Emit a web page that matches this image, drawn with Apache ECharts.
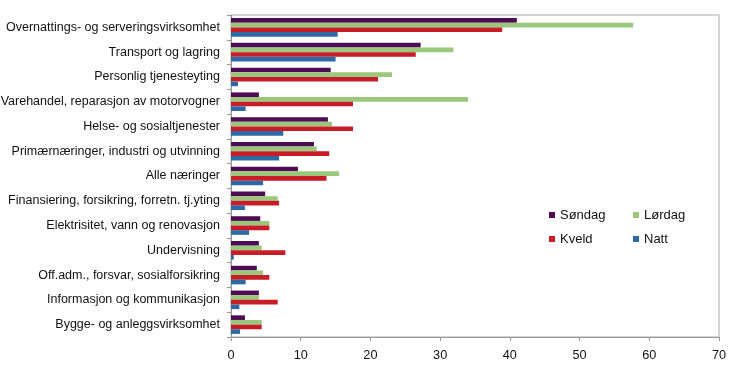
<!DOCTYPE html>
<html>
<head>
<meta charset="utf-8">
<script src="https://cdn.jsdelivr.net/npm/echarts@6/dist/echarts.min.js"></script>
<style>
  html, body { margin: 0; padding: 0; background: #fff; }
  #chart { width: 730px; height: 377px; }
</style>
</head>
<body>
<div id="chart"></div>
<script>
// categories top to bottom
var categories = [
  'Overnattings- og serveringsvirksomhet',
  'Transport og lagring',
  'Personlig tjenesteyting',
  'Varehandel, reparasjon av motorvogner',
  'Helse- og sosialtjenester',
  'Primærnæringer, industri og utvinning',
  'Alle næringer',
  'Finansiering, forsikring, forretn. tj.yting',
  'Elektrisitet, vann og renovasjon',
  'Undervisning',
  'Off.adm., forsvar, sosialforsikring',
  'Informasjon og kommunikasjon',
  'Bygge- og anleggsvirksomhet'
]
var sondag = [41.0, 27.2, 14.3, 4.0, 13.9, 11.9, 9.6, 4.9, 4.2, 4.0, 3.7, 4.0, 2.0]
var lordag = [57.7, 31.9, 23.1, 34.0, 14.5, 12.3, 15.5, 6.7, 5.5, 4.4, 4.6, 4.0, 4.4]
var kveld = [38.9, 26.5, 21.1, 17.5, 17.5, 14.1, 13.7, 6.9, 5.5, 7.8, 5.5, 6.7, 4.4]
var natt = [15.3, 15.0, 1.0, 2.1, 7.5, 6.9, 4.6, 2.0, 2.6, 0.4, 2.1, 1.2, 1.3]
var xTicks = [0, 10, 20, 30, 40, 50, 60, 70]

var colors = {
  'Søndag': '#4e0c55',
  'Lørdag': '#9bc77a',
  'Kveld': '#c81d26',
  'Natt': '#2e69a3'
}
var font = 'Liberation Sans, Arial, sans-serif'

function makeSeries(name, data) {
  return {
    name: name,
    type: 'bar',
    data: data,
    barGap: '0%',
    barCategoryGap: '25%',
    itemStyle: {
      color: colors[name]
    },
    animation: false
  }
}

var chart = echarts.init(document.getElementById('chart'))
chart.setOption({
  grid: {
    left: 231,
    right: 11,
    top: 15,
    bottom: 40,
    outerBoundsMode: 'none',
    containLabel: false,
    show: true,
    borderColor: '#aaaaaa',
    borderWidth: 1
  },
  legend: [{
    data: ['Søndag', 'Kveld'],
    orient: 'vertical',
    left: 544,
    top: 203,
    icon: 'rect',
    itemWidth: 6,
    itemHeight: 6,
    itemGap: 10,
    textStyle: { fontFamily: font, fontSize: 13, color: '#111', lineHeight: 14 }
  }, {
    data: ['Lørdag', 'Natt'],
    orient: 'vertical',
    left: 628,
    top: 203,
    icon: 'rect',
    itemWidth: 6,
    itemHeight: 6,
    itemGap: 10,
    textStyle: { fontFamily: font, fontSize: 13, color: '#111', lineHeight: 14 }
  }],
  xAxis: {
    type: 'value',
    min: xTicks[0],
    max: xTicks[xTicks.length - 1],
    interval: 10,
    splitLine: { show: false },
    axisLine: { show: true, lineStyle: { color: '#999999' } },
    axisTick: { show: true, length: 4, lineStyle: { color: '#999999' } },
    axisLabel: { fontFamily: font, fontSize: 12.7, color: '#111', margin: 12 }
  },
  yAxis: {
    type: 'category',
    data: categories,
    inverse: true,
    axisLine: { show: true, lineStyle: { color: '#999999' } },
    axisTick: { show: true, length: 4, lineStyle: { color: '#999999' } },
    axisLabel: { fontFamily: font, fontSize: 12.5, color: '#111', margin: 11 }
  },
  series: [
    makeSeries('Søndag', sondag),
    makeSeries('Lørdag', lordag),
    makeSeries('Kveld', kveld),
    makeSeries('Natt', natt)
  ]
})
</script>
</body>
</html>
